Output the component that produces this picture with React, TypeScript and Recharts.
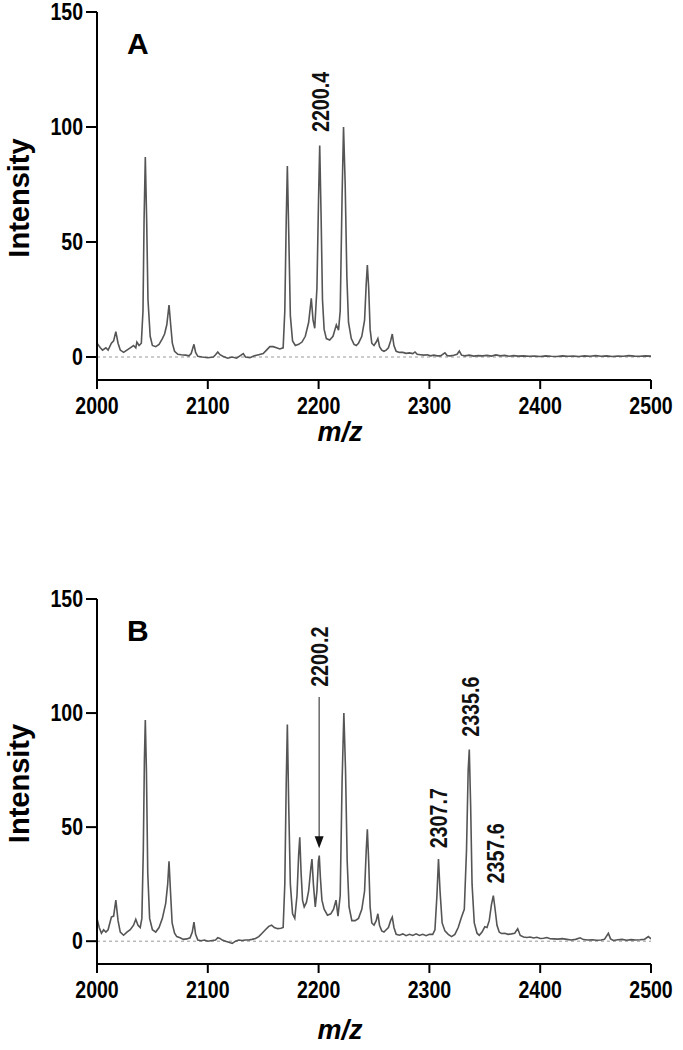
import {
  ComposedChart,
  Label,
  Line,
  ReferenceLine,
  Scatter,
  XAxis,
  YAxis,
} from "recharts";

// [m/z, intensity]
const spectrumA: [number, number][] = [
  [2000, 6], [2003, 4], [2005, 3], [2008, 4], [2010, 3], [2013, 6], [2015, 7], [2017, 11],
  [2019, 6], [2021, 3], [2024, 2], [2027, 3], [2030, 4], [2033, 5], [2035, 4], [2036, 6.5],
  [2038, 5], [2040, 6], [2041.5, 20], [2042.5, 60], [2043.6, 87], [2044.8, 60], [2046, 25],
  [2048, 9], [2050, 5], [2053, 4.5], [2056, 5.5], [2059, 8], [2061, 10], [2063, 14],
  [2065, 22.6], [2066.5, 14], [2068, 6], [2070, 2.5], [2073, 1.2], [2076, 1], [2080, 0.8],
  [2083, 0.5], [2085, 1.5], [2087.5, 5.5], [2089, 2], [2091, 0.3], [2095, 0], [2100, -0.3],
  [2105, 0], [2107, 1], [2109, 2.2], [2111, 1], [2114, 0.2], [2118, -0.5], [2122, 0],
  [2126, -0.5], [2129, 0.5], [2132, 1.5], [2134, 0], [2138, -0.3], [2142, 0.5], [2146, 1],
  [2150, 1.5], [2153, 3], [2156, 4.5], [2159, 4.5], [2162, 4], [2165, 3.5], [2168, 4],
  [2169.5, 20], [2170.8, 60], [2171.8, 83], [2173, 55], [2174.5, 18], [2176.5, 7], [2179, 5],
  [2182, 5.5], [2185, 6.5], [2188, 9], [2191, 15], [2193.4, 25.5], [2195, 16], [2196.5, 12.5],
  [2198.5, 30], [2200, 70], [2201, 92], [2202.3, 60], [2203.5, 25], [2205, 12], [2207, 8],
  [2210, 7.4], [2213, 9], [2216, 14], [2218, 11.7], [2219.5, 20], [2221.2, 70], [2222.5, 100],
  [2224, 75], [2225.5, 35], [2227, 15], [2229.5, 8], [2232, 5.5], [2234, 5], [2236, 6],
  [2239, 9], [2241.5, 16], [2243, 32], [2244, 40], [2245.2, 30], [2246.5, 12], [2248, 6],
  [2250, 5], [2252, 6.5], [2253.5, 8], [2255, 4.5], [2257, 3], [2259, 2.5], [2261, 3],
  [2263, 4], [2265, 7], [2266.5, 10], [2268, 5], [2270, 2.5], [2273, 2], [2276, 2],
  [2279, 1.6], [2282, 1.8], [2285, 1.5], [2287, 2.2], [2289, 1.2], [2292, 1], [2295, 0.8],
  [2298, 1], [2301, 0.5], [2304, 0.8], [2307, 0.5], [2310, 0.5], [2314, 1.8], [2316, 0.6],
  [2319, 0.5], [2322, 0.8], [2325, 1.2], [2327, 2.6], [2329, 0.8], [2332, 0.5], [2336, 0.8],
  [2340, 0.4], [2344, 0.6], [2348, 0.5], [2352, 0.7], [2356, 0.4], [2360, 0.9], [2364, 0.5],
  [2368, 0.7], [2372, 0.3], [2376, 0.6], [2380, 0.4], [2385, 0.5], [2390, 0.3], [2395, 0.4],
  [2400, 0.2], [2405, 0.5], [2410, 0.3], [2415, 0.2], [2420, 0.5], [2425, 0.3], [2430, 0.4],
  [2435, 0.2], [2440, 0.5], [2445, 0.3], [2450, 0.6], [2455, 0.3], [2460, 0.5], [2465, 0.2],
  [2470, 0.4], [2475, 0.3], [2480, 0.6], [2485, 0.4], [2490, 0.3], [2495, 0.5], [2500, 0.4],
];

const spectrumB: [number, number][] = [
  [2000, 10], [2002, 6], [2004, 3.5], [2006, 5], [2008, 4], [2010, 5], [2013, 10.6], [2015, 11],
  [2017, 18], [2019, 9], [2021, 4], [2024, 2.6], [2027, 4], [2030, 5], [2033, 7], [2035, 9.6],
  [2037, 7], [2039, 6], [2040.5, 10], [2041.8, 40], [2042.8, 80], [2043.6, 97], [2044.6, 75],
  [2045.8, 30], [2047.5, 10], [2050, 5], [2053, 4], [2056, 6], [2059, 10], [2062, 16.6],
  [2063.8, 25], [2065, 35], [2066.3, 22], [2067.8, 8], [2070, 3.5], [2072, 2], [2075, 1.5],
  [2078, 0.8], [2081, 1], [2084, 1.5], [2086, 4], [2087.5, 8.4], [2089, 3], [2091, 0.5],
  [2094, 0.2], [2097, 0.5], [2100, 0], [2104, 0.3], [2107, 0.5], [2109, 1.5], [2111, 1.2],
  [2113, 0.5], [2116, 0], [2119, -0.5], [2122, -1], [2125, 0], [2128, 0.5], [2131, 0.3],
  [2134, 0.5], [2137, 0.5], [2140, 0.8], [2143, 1.2], [2146, 2], [2149, 3.5], [2152, 5],
  [2155, 6.5], [2157.6, 7], [2160, 6], [2163, 5.5], [2166, 5.7], [2168, 6], [2169.5, 25],
  [2170.8, 70], [2171.8, 95], [2173, 60], [2174.5, 25], [2176.5, 12], [2178.5, 10],
  [2180.5, 20], [2182, 38], [2183, 45.5], [2184.2, 30], [2185.5, 18], [2187, 15], [2189, 17],
  [2191, 22], [2193, 32], [2194, 36], [2195.3, 25], [2197, 15], [2198.5, 22], [2199.8, 35],
  [2200.6, 37.5], [2201.6, 28], [2203, 18], [2205, 14], [2208, 11.4], [2211, 12],
  [2213.5, 14], [2215.7, 18], [2217.5, 11], [2219.5, 20], [2221.2, 70], [2222.8, 100],
  [2224.3, 75], [2225.8, 35], [2227.5, 15], [2230, 9], [2233, 9], [2236, 10], [2239, 14],
  [2241.5, 22], [2243, 40], [2244, 49], [2245.2, 35], [2246.5, 15], [2248, 8], [2250, 7],
  [2252, 9], [2253.5, 12], [2255, 7], [2257, 4.5], [2259, 4], [2261, 5], [2263, 6], [2265, 9],
  [2266.5, 10.5], [2268, 6], [2270, 3], [2273, 2.6], [2276, 3.2], [2279, 2.4], [2282, 3],
  [2285, 2.5], [2288, 3.2], [2291, 2.5], [2294, 3], [2297, 2.4], [2300, 3], [2303, 3],
  [2305, 5], [2306.8, 20], [2308.2, 36], [2309.6, 22], [2311.5, 8], [2314, 4.5], [2317, 3],
  [2320, 2], [2323, 3], [2326, 6], [2329, 10.6], [2331.5, 14], [2333.5, 40], [2335, 75],
  [2336, 84], [2337.2, 60], [2338.5, 25], [2340.5, 8], [2343, 3.5], [2345, 2.6], [2347.5, 4],
  [2350, 6.3], [2352, 6], [2354, 9], [2356, 16], [2357.7, 20], [2359.3, 14], [2361, 7],
  [2363, 4], [2365, 3.4], [2368, 3.5], [2371, 3], [2374, 3.2], [2377, 3.5], [2379.7, 5.5],
  [2382, 2.5], [2385, 1.8], [2388, 1.6], [2391, 1.8], [2394, 1.4], [2397, 1.7], [2400, 1.2],
  [2403, 1.3], [2406, 1.6], [2409, 1.1], [2412, 1], [2416, 0.9], [2420, 1.1], [2424, 0.8],
  [2428, 0.5], [2432, 0.8], [2436, 1.5], [2439, 0.7], [2443, 0.5], [2447, 0.6], [2451, 0.4],
  [2455, 0.5], [2458, 0.8], [2461.5, 3.5], [2463.5, 1], [2466, 0.3], [2470, 0.6], [2474, 0.8],
  [2478, 0.4], [2482, 0.7], [2486, 0.5], [2490, 0.6], [2494, 0.8], [2497.6, 2], [2500, 1],
];

// peak labels: m/z position, intensity where the text starts, text
const peakLabelsA = [{ mz: 2201, intensity: 97.8, text: "2200.4" }];
const peakLabelsB = [
  { mz: 2200.5, intensity: 111.5, text: "2200.2" },
  { mz: 2308.2, intensity: 40.7, text: "2307.7" },
  { mz: 2336.6, intensity: 89.6, text: "2335.6" },
  { mz: 2359, intensity: 25.3, text: "2357.6" },
];
// arrow in panel B: m/z, shaft start, tip
const arrowB = { mz: 2200.5, from: 107, to: 40.7 };

const xTicks = [2000, 2100, 2200, 2300, 2400, 2500];
const yTicks = [0, 50, 100, 150];

const SANS = '"Liberation Sans", Arial, sans-serif';
const SQUEEZE = 0.85; // labels in the figure use a condensed face

const toRows = (s: [number, number][]) => s.map(([mz, intensity]) => ({ mz, intensity }));

function XTick(props: any) {
  const { x, y, payload } = props;
  return (
    <g transform={`translate(${x},${y})`}>
      <text
        transform={`scale(${SQUEEZE},1)`}
        dy="0.71em"
        textAnchor="middle"
        fontFamily={SANS}
        fontSize={23}
        fontWeight={700}
        fill="#000"
      >
        {payload.value}
      </text>
    </g>
  );
}

function YTick(props: any) {
  const { x, y, payload } = props;
  return (
    <g transform={`translate(${x},${y})`}>
      <text
        transform={`scale(${SQUEEZE},1)`}
        dy="0.355em"
        textAnchor="end"
        fontFamily={SANS}
        fontSize={23}
        fontWeight={700}
        fill="#000"
      >
        {payload.value}
      </text>
    </g>
  );
}

function PeakLabel(props: any) {
  const { cx, cy, payload } = props;
  return (
    <text
      transform={`translate(${cx + 9},${cy}) rotate(-90) scale(0.82,1)`}
      fontFamily={SANS}
      fontSize={24}
      fontWeight={700}
      fill="#111"
    >
      {payload.text}
    </text>
  );
}

function ArrowHead(props: any) {
  const { cx, cy } = props;
  return <path d={`M${cx - 4.5},${cy - 12}L${cx + 4.5},${cy - 12}L${cx},${cy}Z`} fill="#111" />;
}

function Panel({
  letter,
  spectrum,
  peakLabels,
  arrow,
  top,
  xAxisHeight,
  mzOffset,
}: {
  letter: string;
  spectrum: [number, number][];
  peakLabels: { mz: number; intensity: number; text: string }[];
  arrow?: { mz: number; from: number; to: number };
  top: number;
  xAxisHeight: number;
  mzOffset: number;
}) {
  const axisStyle = { stroke: "#000", strokeWidth: 2 };
  return (
    <ComposedChart
      width={683}
      height={525}
      margin={{ top, right: 32, bottom: 0, left: 0 }}
    >
      <XAxis
        type="number"
        dataKey="mz"
        domain={[2000, 2500]}
        ticks={xTicks}
        allowDataOverflow
        height={xAxisHeight}
        tickSize={9}
        tickMargin={9}
        tick={<XTick />}
        axisLine={axisStyle}
        tickLine={axisStyle}
      >
        <Label
          content={(p: any) => {
            const vb = p.viewBox;
            return (
              <text
                x={340}
                y={vb.y + mzOffset}
                textAnchor="middle"
                fontFamily={SANS}
                fontSize={27}
                fontWeight={700}
                fontStyle="italic"
                fill="#000"
              >
                m/z
              </text>
            );
          }}
        />
      </XAxis>
      <YAxis
        type="number"
        dataKey="intensity"
        domain={[-10, 150]}
        ticks={yTicks}
        allowDataOverflow
        width={97}
        tickSize={11}
        tickMargin={3}
        tick={<YTick />}
        axisLine={axisStyle}
        tickLine={axisStyle}
      >
        <Label
          content={(p: any) => {
            const vb = p.viewBox;
            return (
              <g>
                <text
                  transform={`translate(29,${vb.y + vb.height / 2 + 2}) rotate(-90)`}
                  textAnchor="middle"
                  fontFamily={SANS}
                  fontSize={29}
                  fontWeight={700}
                  fill="#000"
                >
                  Intensity
                </text>
                <text
                  x={127}
                  y={vb.y + 42}
                  fontFamily={SANS}
                  fontSize={30}
                  fontWeight={700}
                  fill="#000"
                >
                  {letter}
                </text>
              </g>
            );
          }}
        />
      </YAxis>
      <ReferenceLine y={0} stroke="#999" strokeDasharray="3 3" strokeWidth={1} />
      <Line
        data={toRows(spectrum)}
        dataKey="intensity"
        type="linear"
        stroke="#555"
        strokeWidth={1.6}
        dot={false}
        isAnimationActive={false}
      />
      {arrow && (
        <ReferenceLine
          segment={[
            { x: arrow.mz, y: arrow.from },
            { x: arrow.mz, y: arrow.to + 4 },
          ]}
          stroke="#444"
          strokeWidth={1.2}
        />
      )}
      {arrow && (
        <Scatter
          data={[{ mz: arrow.mz, intensity: arrow.to }]}
          shape={ArrowHead}
          isAnimationActive={false}
        />
      )}
      <Scatter data={peakLabels} shape={PeakLabel} isAnimationActive={false} />
    </ComposedChart>
  );
}

export default function App() {
  return (
    <div style={{ position: "absolute", left: 0, top: 0, width: 683, height: 1050, background: "#fff" }}>
      <Panel letter="A" spectrum={spectrumA} peakLabels={peakLabelsA} top={12} xAxisHeight={145} mzOffset={61} />
      <Panel
        letter="B"
        spectrum={spectrumB}
        peakLabels={peakLabelsB}
        arrow={arrowB}
        top={74}
        xAxisHeight={86}
        mzOffset={75}
      />
    </div>
  );
}
